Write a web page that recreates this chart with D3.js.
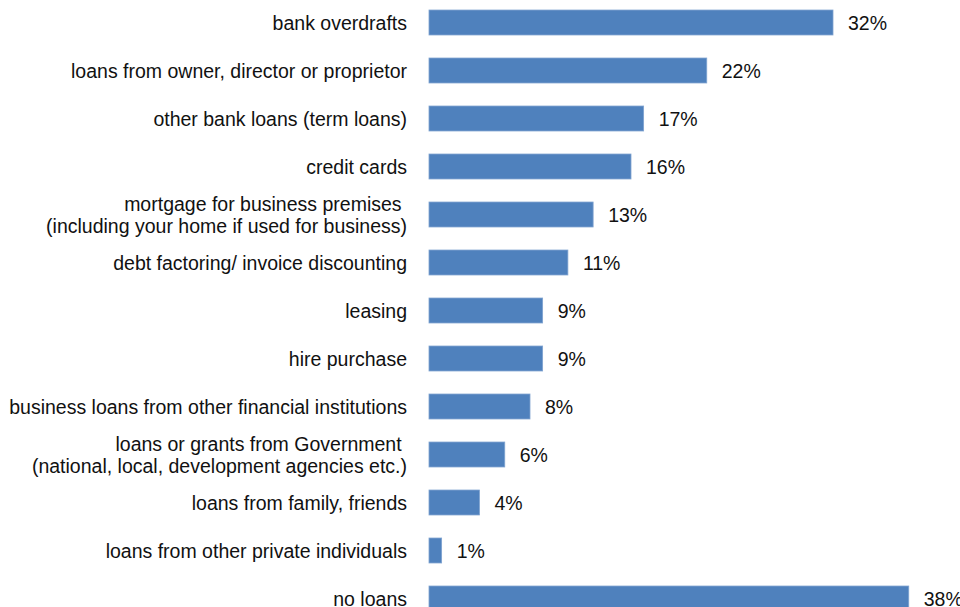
<!DOCTYPE html>
<html>
<head>
<meta charset="utf-8">
<script src="https://cdn.jsdelivr.net/npm/d3@7"></script>
<style>
  html, body { margin: 0; padding: 0; background: #fff; }
  svg { display: block; }
  text { font-family: "Liberation Sans", Arial, sans-serif; fill: #111; white-space: pre; }
</style>
</head>
<body>
<svg id="chart" width="960" height="607"></svg>
<script>
// Sources of business finance used (share of firms)
const categories = [
  "bank overdrafts",
  "loans from owner, director or proprietor",
  "other bank loans (term loans)",
  "credit cards",
  "mortgage for business premises |(including your home if used for business)",
  "debt factoring/ invoice discounting",
  "leasing",
  "hire purchase",
  "business loans from other financial institutions",
  "loans or grants from Government |(national, local, development agencies etc.)",
  "loans from family, friends",
  "loans from other private individuals",
  "no loans"
];
const values = [32, 22, 17, 16, 13, 11, 9, 9, 8, 6, 4, 1, 38];
const valueLabels = ["32%", "22%", "17%", "16%", "13%", "11%", "9%", "9%", "8%", "6%", "4%", "1%", "38%"];

const W = 960, H = 607;
const svg = d3.select("#chart");

const x = d3.scaleLinear().domain([0, 40]).range([429, 934]);
const y = d3.scaleBand()
  .domain(categories)
  .range([-1.5, 622.5])
  .paddingInner(0.48)
  .paddingOuter(0.24);

const rows = categories.map((c, i) => ({ cat: c, value: values[i], label: valueLabels[i] }));

// bars
svg.append("g").selectAll("rect")
  .data(rows)
  .join("rect")
  .attr("x", x(0))
  .attr("y", d => y(d.cat))
  .attr("width", d => x(d.value) - x(0))
  .attr("height", y.bandwidth())
  .attr("fill", "#4f81bd")
  .attr("stroke", "#7fa3d0")
  .attr("stroke-width", 0.8);

// category labels (may span two lines, split on "|")
const fs = 19.5;
const catG = svg.append("g");
rows.forEach(d => {
  const lines = d.cat.split("|");
  const cy = y(d.cat) + y.bandwidth() / 2;
  const lh = 22;
  const t = catG.append("text")
    .attr("text-anchor", "end")
    .attr("font-size", fs);
  lines.forEach((ln, j) => {
    t.append("tspan")
      .attr("x", 407)
      .attr("y", cy + (j - (lines.length - 1) / 2) * lh)
      .attr("dy", "0.36em")
      .text(ln);
  });
});

// value labels
svg.append("g").selectAll("text")
  .data(rows)
  .join("text")
  .attr("x", d => x(d.value) + 15)
  .attr("y", d => y(d.cat) + y.bandwidth() / 2)
  .attr("dy", "0.36em")
  .attr("font-size", fs)
  .text(d => d.label);
</script>
</body>
</html>
